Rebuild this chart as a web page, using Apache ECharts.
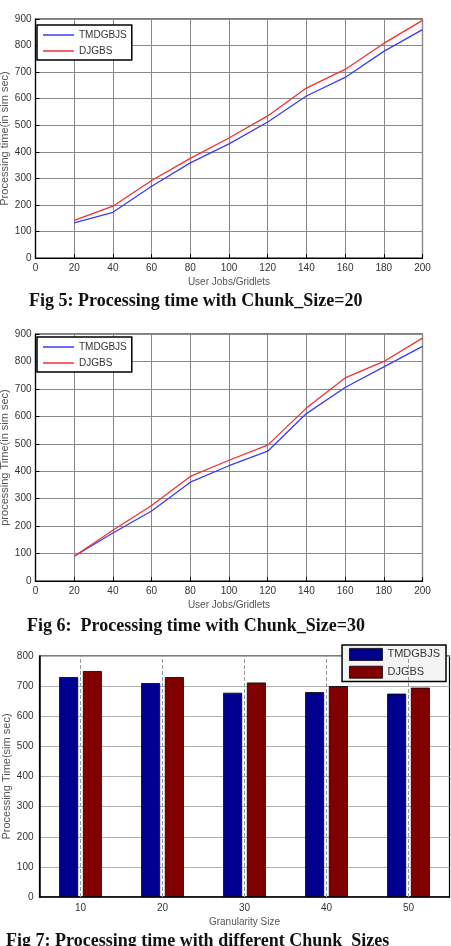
<!DOCTYPE html>
<html>
<head>
<meta charset="utf-8">
<script src="https://cdn.jsdelivr.net/npm/echarts@6/dist/echarts.min.js"></script>
<style>
  html, body { margin: 0; padding: 0; background: #fff; }
  #main { width: 451px; height: 946px; }
</style>
</head>
<body>
<div id="main"></div>
<script>
// data
var jobs = [20, 40, 60, 80, 100, 120, 140, 160, 180, 200];
var chunk20Tmdgbjs = [132, 172, 270, 358, 430, 512, 610, 680, 778, 860];
var chunk20Djgbs = [142, 195, 292, 375, 452, 535, 640, 710, 808, 895];
var chunk30Tmdgbjs = [90, 175, 255, 360, 420, 473, 610, 705, 780, 855];
var chunk30Djgbs = [90, 185, 275, 381, 440, 495, 630, 740, 800, 885];
var granularity = ['10', '20', '30', '40', '50'];
var barTmdgbjs = [730, 710, 678, 680, 675];
var barDjgbs = [750, 730, 712, 700, 695];
var seriesNames = ['TMDGBJS', 'DJGBS'];

function pairs(xs, ys) {
  return xs.map(function (x, i) { return [x, ys[i]]; });
}

var tickFont = { fontFamily: 'Liberation Sans', fontSize: 10, color: '#333' };
var nameFont = { fontFamily: 'Liberation Sans', fontSize: 10, color: '#555' };
var yNameFont = { fontFamily: 'Liberation Sans', fontSize: 11, color: '#555' };

function lineX(gi) {
  return {
    gridIndex: gi, type: 'value', min: 0, max: 200, interval: 20,
    name: 'User Jobs/Gridlets', nameLocation: 'middle', nameGap: 19, nameTextStyle: nameFont,
    nameMoveOverlap: false,
    axisLine: { lineStyle: { color: '#000', width: 1.2 } },
    axisTick: { inside: true, length: 4, lineStyle: { color: '#000' } },
    axisLabel: Object.assign({ margin: 5 }, tickFont),
    splitLine: { lineStyle: { color: '#8a8a8a', width: 1 } }
  };
}
function lineY(gi, name) {
  return {
    gridIndex: gi, type: 'value', min: 0, max: 900, interval: 100,
    name: name, nameLocation: 'middle', nameGap: 25, nameTextStyle: yNameFont,
    nameMoveOverlap: false,
    axisLine: { show: true, lineStyle: { color: '#000', width: 1.2 } },
    axisTick: { show: true, inside: true, length: 4, lineStyle: { color: '#000' } },
    axisLabel: Object.assign({ margin: 4 }, tickFont),
    splitLine: { lineStyle: { color: '#8a8a8a', width: 1 } }
  };
}
function lineLegend(top) {
  return {
    data: seriesNames, orient: 'vertical', left: 37, top: top,
    icon: 'rect', itemWidth: 31, itemHeight: 1.5, itemGap: 4,
    padding: [4, 5, 3, 6],
    backgroundColor: '#fff', borderColor: '#000', borderWidth: 1.5,
    textStyle: { fontFamily: 'Liberation Sans', fontSize: 10, color: '#333', lineHeight: 12 }
  };
}
function lineSeries(name, color, xi, data) {
  return {
    name: name, type: 'line', xAxisIndex: xi, yAxisIndex: xi,
    data: pairs(jobs, data), showSymbol: false, symbol: 'none',
    lineStyle: { color: color, width: 1.3 }, itemStyle: { color: color }
  };
}

var blueBar = '#00008f', redBar = '#800000';
var captionFont = 'bold 18px "Liberation Serif"';

var chart = echarts.init(document.getElementById('main'));
var option = {
  animation: false,
  grid: [
    { left: 35.5, top: 19, width: 387, height: 239, show: true, borderColor: '#000', borderWidth: 1.2, outerBoundsMode: 'none', containLabel: false },
    { left: 35.5, top: 334, width: 387, height: 247, show: true, borderColor: '#000', borderWidth: 1.2, outerBoundsMode: 'none', containLabel: false },
    { left: 39.5, top: 656, width: 410, height: 241, show: true, borderColor: '#000', borderWidth: 1.2, outerBoundsMode: 'none', containLabel: false }
  ],
  legend: [
    lineLegend(25),
    lineLegend(337),
    {
      data: [
        { name: 'TMDGBJS', itemStyle: { color: blueBar, borderColor: '#000', borderWidth: 0.8 } },
        { name: 'DJGBS', itemStyle: { color: redBar, borderColor: '#000', borderWidth: 0.8 } }
      ],
      orient: 'vertical', right: 5, top: 645,
      icon: 'rect', itemWidth: 33, itemHeight: 12, itemGap: 5,
      padding: [3, 6, 3, 7],
      backgroundColor: '#f4f4f4', borderColor: '#000', borderWidth: 1.5,
      textStyle: { fontFamily: 'Liberation Sans', fontSize: 11, color: '#333' }
    }
  ],
  xAxis: [
    lineX(0),
    lineX(1),
    {
      gridIndex: 2, type: 'category', data: granularity,
      name: 'Granularity Size', nameLocation: 'middle', nameGap: 20, nameTextStyle: nameFont,
      nameMoveOverlap: false,
      axisLine: { lineStyle: { color: '#000', width: 1.5 } },
      axisTick: { show: false },
      axisLabel: Object.assign({ margin: 6 }, tickFont),
      splitLine: { show: false }
    }
  ],
  yAxis: [
    lineY(0, 'Processing time(in sim sec)'),
    lineY(1, 'processing Time(in sim sec)'),
    {
      gridIndex: 2, type: 'value', min: 0, max: 800, interval: 100,
      name: 'Processing Time(sim sec)', nameLocation: 'middle', nameGap: 27, nameTextStyle: yNameFont,
      nameMoveOverlap: false,
      axisLine: { show: true, lineStyle: { color: '#000', width: 1.5 } },
      axisTick: { show: false },
      axisLabel: Object.assign({ margin: 6 }, tickFont),
      splitLine: { lineStyle: { color: '#b0b0b0', width: 1.2 } }
    }
  ],
  series: [
    lineSeries('TMDGBJS', '#3b3bf5', 0, chunk20Tmdgbjs),
    lineSeries('DJGBS', '#f23030', 0, chunk20Djgbs),
    lineSeries('TMDGBJS', '#3b3bf5', 1, chunk30Tmdgbjs),
    lineSeries('DJGBS', '#f23030', 1, chunk30Djgbs),
    {
      // dashed vertical grid at the category ticks
      name: 'xgrid', type: 'line', xAxisIndex: 2, yAxisIndex: 2, data: [], z: 1,
      markLine: {
        silent: true, symbol: 'none', label: { show: false },
        lineStyle: { color: '#999', type: 'dashed', width: 1 },
        data: granularity.map(function (g) { return { xAxis: g }; })
      }
    },
    {
      name: 'TMDGBJS', type: 'bar', xAxisIndex: 2, yAxisIndex: 2, data: barTmdgbjs,
      barWidth: 19, barGap: '25%', z: 3,
      itemStyle: { color: blueBar, borderColor: '#000', borderWidth: 0.8 }
    },
    {
      name: 'DJGBS', type: 'bar', xAxisIndex: 2, yAxisIndex: 2, data: barDjgbs,
      barWidth: 19, z: 3,
      itemStyle: { color: redBar, borderColor: '#000', borderWidth: 0.8 }
    }
  ],
  graphic: [
    { type: 'text', left: 29, top: 292, style: { text: 'Fig 5: Processing time with Chunk_Size=20', font: captionFont, fill: '#111' } },
    { type: 'text', left: 27, top: 617, style: { text: 'Fig 6:  Processing time with Chunk_Size=30', font: captionFont, fill: '#111' } },
    { type: 'text', left: 6, top: 932, style: { text: 'Fig 7: Processing time with different Chunk_Sizes', font: captionFont, fill: '#111' } }
  ]
};
chart.setOption(option);
</script>
</body>
</html>
